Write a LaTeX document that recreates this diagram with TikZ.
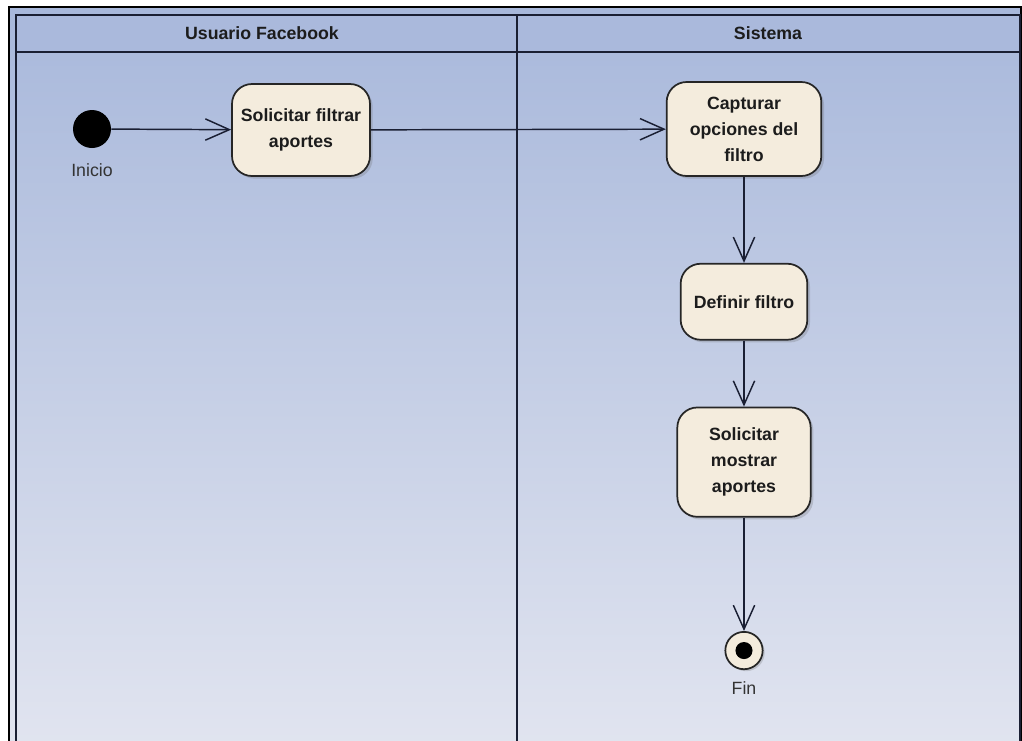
\documentclass[tikz,border=0pt]{standalone}
\usepackage{fontspec}
\setmainfont{Liberation Sans}
\usepackage{tikz}
\usetikzlibrary{arrows.meta,positioning,shadows}
\definecolor{laneTop}{HTML}{A8B8DB}
\definecolor{laneBot}{HTML}{E2E5F0}
\definecolor{laneHead}{HTML}{AAB9DC}
\definecolor{laneInk}{HTML}{1A1F33}
\definecolor{actFill}{HTML}{F4ECDD}
\definecolor{actInk}{HTML}{1C1C1C}
\definecolor{lblInk}{HTML}{333333}
\tikzset{
  % Activity box (rounded, cream)
  act/.style={rectangle,rounded corners=15pt,
    align=center,draw=black!85,line width=1.3pt,fill=actFill,
    font=\bfseries\fontsize{13.3}{19.5}\selectfont,text=actInk,
    drop shadow={shadow xshift=2pt,shadow yshift=-2pt,
      opacity=0.25,fill=black!60}},
  % Initial node
  startnode/.style={circle,fill=black,minimum size=28.5pt,inner sep=0pt},
  % Final node
  endnode/.style={circle,draw=black!85,line width=1.3pt,fill=actFill,
    minimum size=28pt,inner sep=0pt,
    path picture={\fill[black] (path picture bounding box.center) circle (6.4pt);},
    drop shadow={shadow xshift=1.5pt,shadow yshift=-1.5pt,
      opacity=0.25,fill=black!60}},
  % Lane header text
  lanehead/.style={font=\bfseries\fontsize{13.3}{16}\selectfont,text=actInk},
  % Node labels
  lbl/.style={font=\fontsize{13.3}{16}\selectfont,text=lblInk},
  % Control flow
  flow/.style={-{Straight Barb[length=18pt,width=16pt,line width=1.1pt]},
    line width=1.1pt,draw=laneInk},
}

\begin{document}
\begin{tikzpicture}[x=0.75pt,y=-0.75pt]
  \useasboundingbox (0,0) rectangle (1022,740);
  \clip (0,0) rectangle (1022,740);
  \fill[white] (0,0) rectangle (1022,740);

  % Swimlane frame
  \shade[top color=laneTop,bottom color=laneBot] (9,7) rectangle (1021,760);
  \fill[laneHead] (16,15) rectangle (1020,52);
  \draw[black,line width=1.5pt] (9,7) rectangle (1021,760);
  \draw[laneInk,line width=1.4pt] (16,760) -- (16,15) -- (1020,15) -- (1020,760);
  \draw[laneInk,line width=1.4pt] (16,52) -- (1020,52);
  \draw[laneInk,line width=1.4pt] (517,15) -- (517,760);
  \node[lanehead] (hUser) at (262,33) {Usuario Facebook};
  \node[lanehead] (hSys) at (768,33) {Sistema};

  % Usuario Facebook lane
  \node[startnode,label={[lbl,yshift=-8pt]below:Inicio}] (inicio) at (92,129) {};
  \node[act,minimum width=103.5pt,minimum height=69pt] (solFiltrar) at (301,130)
    {Solicitar filtrar\\aportes};

  % Sistema lane
  \node[act,minimum width=116pt,minimum height=70.5pt] (capturar) at (744,129)
    {Capturar\\opciones del\\filtro};
  \node[act,minimum width=95pt,minimum height=57pt,below=64.5pt of capturar] (definir)
    {Definir filtro};
  \node[act,minimum width=100pt,minimum height=82pt,below=49.5pt of definir] (solMostrar)
    {Solicitar\\mostrar\\aportes};
  \node[endnode,below=85pt of solMostrar,label={[lbl,yshift=-5pt]below:Fin}] (fin) {};

  % Flows
  \draw[flow] (inicio) -- (solFiltrar);
  \draw[flow] (solFiltrar) -- (capturar);
  \draw[flow] (capturar) -- (definir);
  \draw[flow] (definir) -- (solMostrar);
  \draw[flow] (solMostrar) -- (fin);
\end{tikzpicture}
\end{document}
